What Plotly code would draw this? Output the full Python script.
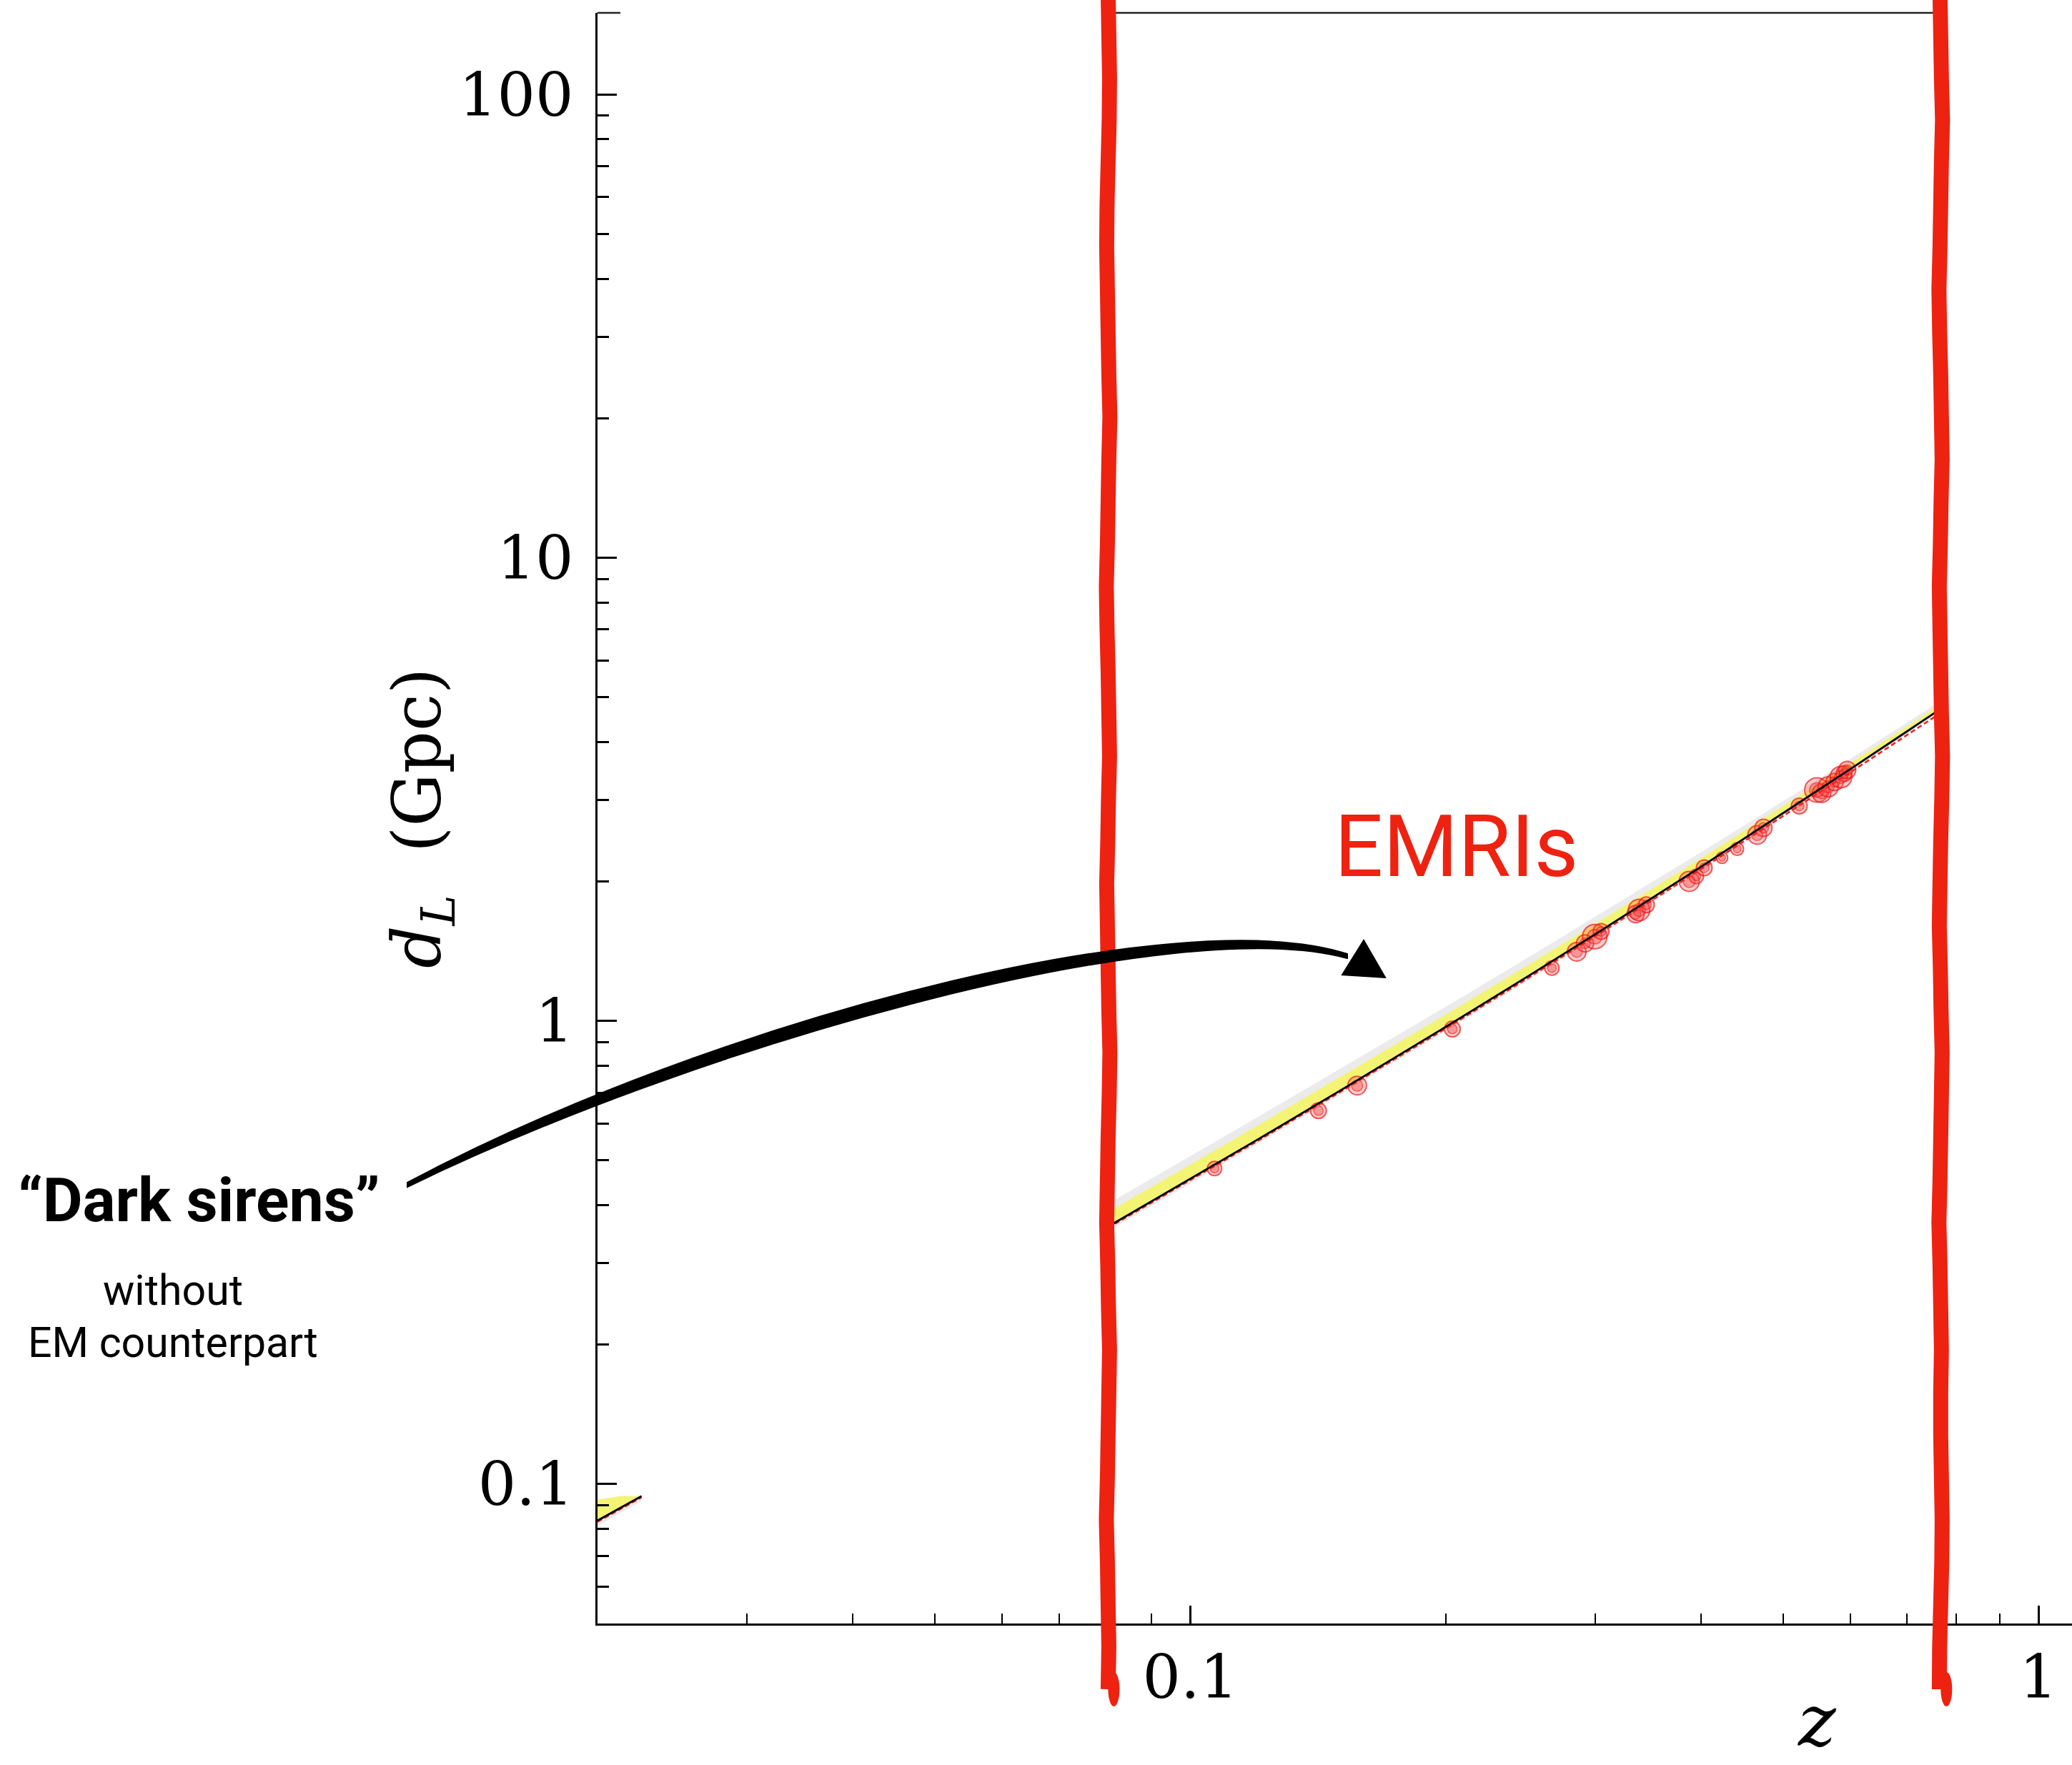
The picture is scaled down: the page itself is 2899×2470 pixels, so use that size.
import math
import plotly.graph_objects as go

# ---------------------------------------------------------------------------
# Data: luminosity distance d_L (Gpc) versus redshift z
# ---------------------------------------------------------------------------

# short low-redshift piece of the reconstructed distance-redshift relation
z_low = [0.02, 0.0213, 0.02254]
dl_low_fit = [0.0834, 0.0889, 0.0942]
dl_low_fid = [0.0829, 0.0884, 0.0936]
dl_low_1sig_hi = [0.0925, 0.0942, 0.0942]
dl_low_2sig_lo = [0.0813, 0.0867, 0.0918]

# main EMRI redshift range
z_fit = [0.08, 0.1, 0.12, 0.15, 0.2, 0.25, 0.3, 0.4, 0.5, 0.6, 0.7, 0.77]
dl_fit = [0.3596, 0.4557, 0.5541, 0.7060, 0.9702, 1.2476, 1.5372, 2.1504,
          2.8046, 3.4948, 4.2171, 4.7396]
dl_fid = [0.3574, 0.4530, 0.5502, 0.7011, 0.9624, 1.2364, 1.5218, 2.1246,
          2.7653, 3.4389, 4.1412, 4.6448]
dl_1sig_hi = [0.3866, 0.4899, 0.5940, 0.7554, 1.0313, 1.3187, 1.6171, 2.2429,
              2.9056, 3.5996, 4.3225, 4.8439]
dl_2sig_hi = [0.4028, 0.5104, 0.6195, 0.7872, 1.0721, 1.3686, 1.6755, 2.3117,
              2.9785, 3.6765, 4.4027, 4.9292]
dl_2sig_lo = [0.3517, 0.4457, 0.5425, 0.6912, 0.9508, 1.2239, 1.5095, 2.1138,
              2.7597, 3.4424, 4.1581, 4.6732]

# individual EMRI events (posterior centres)
emri_z = [0.1068, 0.1416, 0.1573, 0.2037, 0.2669, 0.2855, 0.292, 0.2998,
          0.305, 0.335, 0.3382, 0.345, 0.3875, 0.395, 0.4036, 0.4236,
          0.4414, 0.466, 0.474, 0.5224, 0.548, 0.555, 0.565, 0.575,
          0.585, 0.59, 0.595]
emri_dl = [0.480, 0.640, 0.725, 0.960, 1.300, 1.410, 1.470, 1.520,
           1.560, 1.700, 1.735, 1.780, 2.000, 2.050, 2.140, 2.250,
           2.350, 2.520, 2.610, 2.910, 3.150, 3.100, 3.200, 3.280,
           3.360, 3.420, 3.480]

# redshift limits of the EMRI window
z_window = [0.080, 0.767]

# ---------------------------------------------------------------------------
# Styling
# ---------------------------------------------------------------------------
W, H = 2899, 2470
M_L, M_R, M_T, M_B = 836, 0, 18, 198
PLOT_H = H - M_T - M_B
PW = W - M_L - M_R

SERIF = "DejaVu Serif"
SANS = "Roboto, Noto Sans, DejaVu Sans"
RED = "#ee2211"
YELLOW = "#f4f474"
GREY = "#ebebeb"

emri_sizes = [20, 22, 26, 22, 20, 26, 24, 34, 22, 24, 30, 22, 28, 20, 22,
              16, 18, 26, 24, 22, 34, 26, 28, 24, 30, 22, 24]

# hand-drawn wobble of the red window lines (pixel offsets)
wobble = [0, 1, 2, 1.5, 0, -1.5, -2, -1, 0, 1, 2.5, 1, 0, -1, -2.5, -1.5, 0,
          1, 2, 0.5, -0.5, -2, -1, 0, 1, 2.5, 1.5, 0, -1, -2, -0.5, 0.5,
          2, 1, 0, -1, -2.5, -1, 0, 1, 0]


def band(x, lo, hi):
    return x + x[::-1], hi + lo[::-1]


fig = go.Figure()

# 2-sigma (grey) band
bx, by = band(z_fit, dl_2sig_lo, dl_2sig_hi)
fig.add_trace(go.Scatter(x=bx, y=by, fill="toself", fillcolor=GREY,
                         line=dict(width=0), mode="lines", hoverinfo="skip"))
bx, by = band(z_low, dl_low_2sig_lo, dl_low_1sig_hi)
fig.add_trace(go.Scatter(x=bx, y=by, fill="toself", fillcolor=GREY,
                         line=dict(width=0), mode="lines", hoverinfo="skip"))

# 1-sigma (yellow) band above the fit
bx, by = band(z_fit, dl_fit, dl_1sig_hi)
fig.add_trace(go.Scatter(x=bx, y=by, fill="toself", fillcolor=YELLOW,
                         line=dict(width=0), mode="lines", hoverinfo="skip"))
bx, by = band(z_low, dl_low_fit, dl_low_1sig_hi)
fig.add_trace(go.Scatter(x=bx, y=by, fill="toself", fillcolor=YELLOW,
                         line=dict(width=0), mode="lines", hoverinfo="skip"))

# EMRI posterior blobs (outer and inner contours)
fig.add_trace(go.Scatter(
    x=emri_z, y=emri_dl, mode="markers",
    marker=dict(size=emri_sizes, color="rgba(250,70,70,0.40)",
                line=dict(color="rgba(235,15,15,1)", width=2)),
    hoverinfo="skip"))
fig.add_trace(go.Scatter(
    x=emri_z, y=emri_dl, mode="markers",
    marker=dict(size=[s * 0.6 for s in emri_sizes],
                color="rgba(245,55,55,0.50)",
                line=dict(color="rgba(235,15,15,0.9)", width=1.3)),
    hoverinfo="skip"))

# fiducial cosmology (red dashed) and best fit (black)
for zz, dd in ((z_fit, dl_fid), (z_low, dl_low_fid)):
    fig.add_trace(go.Scatter(x=zz, y=dd, mode="lines",
                             line=dict(color="#ff1a1a", width=2.5,
                                       dash="7px,4px"),
                             hoverinfo="skip"))
for zz, dd in ((z_fit, dl_fit), (z_low, dl_low_fit)):
    fig.add_trace(go.Scatter(x=zz, y=dd, mode="lines",
                             line=dict(color="black", width=2.8),
                             hoverinfo="skip"))

shapes = []

# top frame segment between the window lines, plus the corner stub
shapes.append(dict(type="line", xref="x", yref="paper", x0=z_window[0],
                   x1=z_window[1], y0=1, y1=1,
                   line=dict(color="#222222", width=2.5)))
shapes.append(dict(type="line", xref="paper", yref="paper", xsizemode="pixel",
                   xanchor=0, x0=0, x1=32, y0=1, y1=1,
                   line=dict(color="#222222", width=2.5)))

# red window lines, drawn by hand and running past the axes
n = len(wobble)
top, bottom = PLOT_H + M_T + 10, -92
for k, zw in enumerate(z_window):
    pts = []
    for i in range(n):
        dx = wobble[(i + 7 * k) % n]
        yy = top + (bottom - top) * i / (n - 1)
        pts.append(f"{dx},{yy:.1f}")
    shapes.append(dict(type="path", xref="x", yref="paper",
                       xsizemode="pixel", ysizemode="pixel",
                       xanchor=zw, yanchor=0,
                       path="M " + " L ".join(pts),
                       line=dict(color=RED, width=21)))
    shapes.append(dict(type="circle", xref="x", yref="paper",
                       xsizemode="pixel", ysizemode="pixel",
                       xanchor=zw, yanchor=0, x0=-16, x1=16, y0=-116, y1=-68,
                       fillcolor=RED, line=dict(width=0)))

# curved arrow from the "Dark sirens" label towards the EMRI window
arrow_body = ("M -266,617 C 164,846 814,1013 1049,937 L 1049,931 "
              "C 814,996 164,820 -266,611 Z")
arrow_head = "M 1072,956 L 1042,908 L 1102,904 Z"
for p in (arrow_body, arrow_head):
    shapes.append(dict(type="path", xref="paper", yref="paper",
                       xsizemode="pixel", ysizemode="pixel",
                       xanchor=0, yanchor=0, path=p,
                       fillcolor="black", line=dict(color="black", width=2)))


def px(xp):
    return (xp - M_L) / PW


def py(yp):
    return (H - M_B - yp) / PLOT_H


annotations = [
    dict(text="EMRIs", x=px(2037), y=py(1185), xref="paper", yref="paper",
         showarrow=False, xanchor="center", yanchor="middle",
         font=dict(family=SANS, size=120, color=RED)),
    dict(text="<b>“Dark sirens”</b>", x=px(278), y=py(1679),
         xref="paper", yref="paper", showarrow=False,
         xanchor="center", yanchor="middle",
         font=dict(family=SANS, size=86, color="black")),
    dict(text="without", x=px(242), y=py(1805), xref="paper", yref="paper",
         showarrow=False, xanchor="center", yanchor="middle",
         font=dict(family=SANS, size=59, color="black")),
    dict(text="EM counterpart", x=px(242), y=py(1878), xref="paper",
         yref="paper", showarrow=False, xanchor="center", yanchor="middle",
         font=dict(family=SANS, size=59, color="black")),
    dict(text="<i>d</i><sub><i>L</i></sub>\u00a0\u00a0(Gpc)", x=px(590),
         y=py(1145), xref="paper", yref="paper", showarrow=False,
         textangle=-90, xanchor="center", yanchor="middle",
         font=dict(family=SERIF, size=93, color="black")),
    dict(text="<i>z</i>", x=px(2542), y=py(2469), xref="paper", yref="paper",
         showarrow=False, xanchor="center", yanchor="bottom",
         font=dict(family=SERIF, size=100, color="black")),
]

axis_common = dict(
    type="log", showline=True, linecolor="black", linewidth=2.5,
    showgrid=False, zeroline=False, ticks="inside", tickcolor="black",
    tickwidth=2.5, dtick=1, tickfont=dict(family=SERIF, size=84,
                                          color="black"),
)

fig.update_layout(
    width=W, height=H,
    margin=dict(l=M_L, r=M_R, t=M_T, b=M_B, pad=0),
    paper_bgcolor="white", plot_bgcolor="white",
    showlegend=False,
    xaxis=dict(axis_common, range=[math.log10(0.02), 0.0396], ticklen=25,
               minor=dict(dtick="D1", ticks="inside", ticklen=14,
                          tickwidth=2, tickcolor="black")),
    yaxis=dict(axis_common, range=[math.log10(0.05), math.log10(150)],
               ticklen=27, ticklabelstandoff=14,
               minor=dict(dtick="D1", ticks="inside", ticklen=16,
                          tickwidth=2.5, tickcolor="black")),
    shapes=shapes,
    annotations=annotations,
)

fig.write_html("out.html")
